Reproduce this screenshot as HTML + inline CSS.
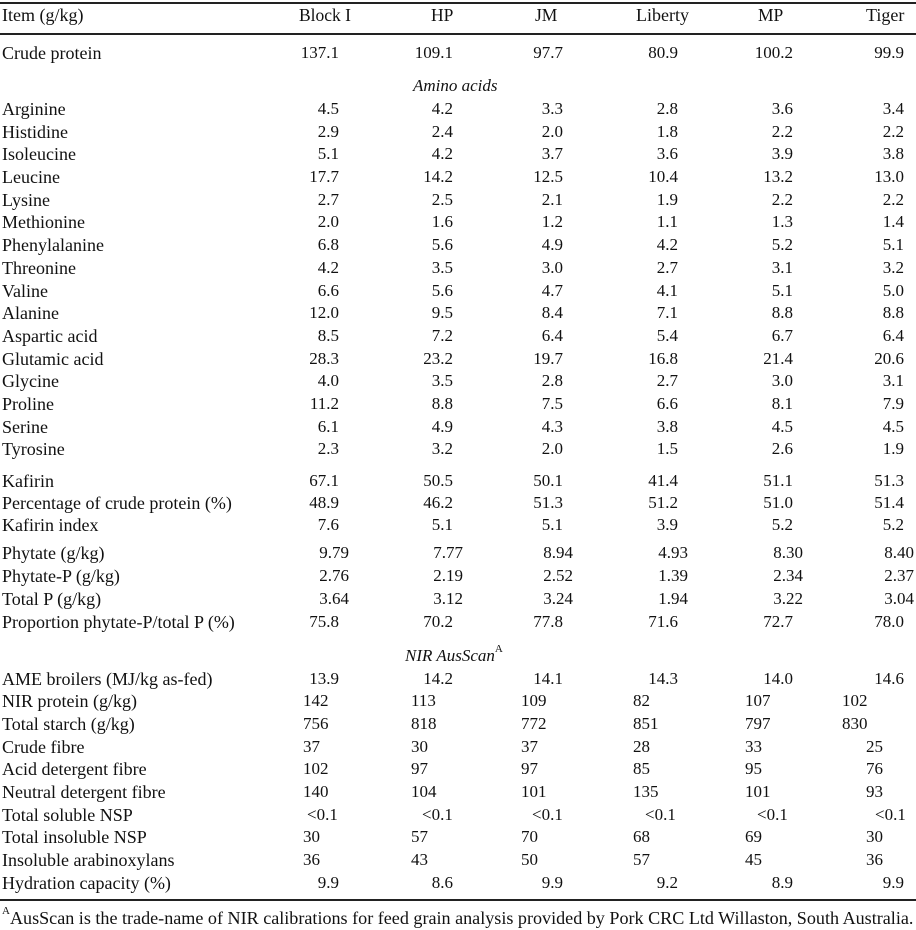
<!DOCTYPE html>
<html><head><meta charset="utf-8">
<style>
html,body{margin:0;padding:0;background:#fff;}
#t{position:relative;width:916px;height:930px;font-family:"Liberation Serif",serif;font-size:17px;color:#111;overflow:hidden;}
.c{position:absolute;line-height:20px;height:20px;white-space:nowrap;}
.lab{font-size:18px;}
.hr{position:absolute;left:0;width:916px;background:#222;}
.sp{font-size:11px;vertical-align:top;line-height:11px;position:relative;top:-2px;}
</style></head><body>
<div id="t">
<div class="hr" style="top:2px;height:1.5px"></div>
<div class="hr" style="top:33px;height:2px"></div>
<div class="hr" style="top:899px;height:1.5px"></div>
<div class="c lab" style="left:2px;top:5px">Item (g/kg)</div>
<div class="c" style="left:299px;top:5px;font-size:17.5px">Block I</div>
<div class="c" style="left:431px;top:5px;font-size:17.5px">HP</div>
<div class="c" style="left:535px;top:5px;font-size:17.5px">JM</div>
<div class="c" style="left:636px;top:5px;font-size:18px">Liberty</div>
<div class="c" style="left:758px;top:5px;font-size:17.5px">MP</div>
<div class="c" style="left:866px;top:5px;font-size:18px">Tiger</div>
<div class="c" style="left:413px;top:76px;font-style:italic">Amino acids</div>
<div class="c" style="left:405px;top:646px"><i>NIR AusScan</i><span class="sp">A</span></div>
<div class="c" style="left:2px;top:908px;font-size:18.1px"><span class="sp">A</span>AusScan is the trade-name of NIR calibrations for feed grain analysis provided by Pork CRC Ltd Willaston, South Australia.</div>
</div>
<script>
const labels=["Crude protein","Arginine","Histidine","Isoleucine","Leucine","Lysine","Methionine","Phenylalanine","Threonine","Valine","Alanine","Aspartic acid","Glutamic acid","Glycine","Proline","Serine","Tyrosine","Kafirin","Percentage of crude protein (%)","Kafirin index","Phytate (g/kg)","Phytate-P (g/kg)","Total P (g/kg)","Proportion phytate-P/total P (%)","AME broilers (MJ/kg as-fed)","NIR protein (g/kg)","Total starch (g/kg)","Crude fibre","Acid detergent fibre","Neutral detergent fibre","Total soluble NSP","Total insoluble NSP","Insoluble arabinoxylans","Hydration capacity (%)"];
const rowY=[53,109,132,154,177,200,222,245,268,291,313,336,359,381,404,427,449,481,503,525,553,576,599,622,679,701,724,747,769,792,815,837,860,883];
const blockI=["137.1","4.5","2.9","5.1","17.7","2.7","2.0","6.8","4.2","6.6","12.0","8.5","28.3","4.0","11.2","6.1","2.3","67.1","48.9","7.6","9.79","2.76","3.64","75.8","13.9","142","756","37","102","140","<0.1","30","36","9.9"];
const hp=["109.1","4.2","2.4","4.2","14.2","2.5","1.6","5.6","3.5","5.6","9.5","7.2","23.2","3.5","8.8","4.9","3.2","50.5","46.2","5.1","7.77","2.19","3.12","70.2","14.2","113","818","30","97","104","<0.1","57","43","8.6"];
const jm=["97.7","3.3","2.0","3.7","12.5","2.1","1.2","4.9","3.0","4.7","8.4","6.4","19.7","2.8","7.5","4.3","2.0","50.1","51.3","5.1","8.94","2.52","3.24","77.8","14.1","109","772","37","97","101","<0.1","70","50","9.9"];
const liberty=["80.9","2.8","1.8","3.6","10.4","1.9","1.1","4.2","2.7","4.1","7.1","5.4","16.8","2.7","6.6","3.8","1.5","41.4","51.2","3.9","4.93","1.39","1.94","71.6","14.3","82","851","28","85","135","<0.1","68","57","9.2"];
const mp=["100.2","3.6","2.2","3.9","13.2","2.2","1.3","5.2","3.1","5.1","8.8","6.7","21.4","3.0","8.1","4.5","2.6","51.1","51.0","5.2","8.30","2.34","3.22","72.7","14.0","107","797","33","95","101","<0.1","69","45","8.9"];
const tiger=["99.9","3.4","2.2","3.8","13.0","2.2","1.4","5.1","3.2","5.0","8.8","6.4","20.6","3.1","7.9","4.5","1.9","51.3","51.4","5.2","8.40","2.37","3.04","78.0","14.6","102","830","25","76","93","<0.1","30","36","9.9"];
const series=[blockI,hp,jm,liberty,mp,tiger];
const colNames=["block-i","hp","jm","liberty","mp","tiger"];
const decRight=[339,453,563,678,793,904];
const intLeft=[303,411,521,633,745,866];
const intLeft3=[303,411,521,633,745,842];
const ltLeft=[307,422,532,645,757,875];
const t=document.getElementById('t');
function slug(s){return s.toLowerCase().replace(/[^a-z0-9]+/g,'-').replace(/^-|-$/g,'');}
labels.forEach((lab,i)=>{
  const d=document.createElement('div');
  d.className='c lab';
  d.style.left='2px';
  d.style.top=(rowY[i]-10)+'px';
  d.textContent=lab;
  
  
  t.appendChild(d);
  series.forEach((s,j)=>{
    const v=s[i];
    const e=document.createElement('div');
    e.className='c';
    e.style.top=(rowY[i]-10)+'px';
    e.textContent=v;
    if(v.startsWith('<')){e.style.left=ltLeft[j]+'px';}
    else if(v.indexOf('.')<0){e.style.left=(v.length>=3?intLeft3[j]:intLeft[j])+'px';}
    else{
      const dec=v.split('.')[1].length;
      e.style.right=(916-decRight[j]-(dec===2?10:0))+'px';
    }
    
    
    t.appendChild(e);
  });
});
</script>
</body></html>
